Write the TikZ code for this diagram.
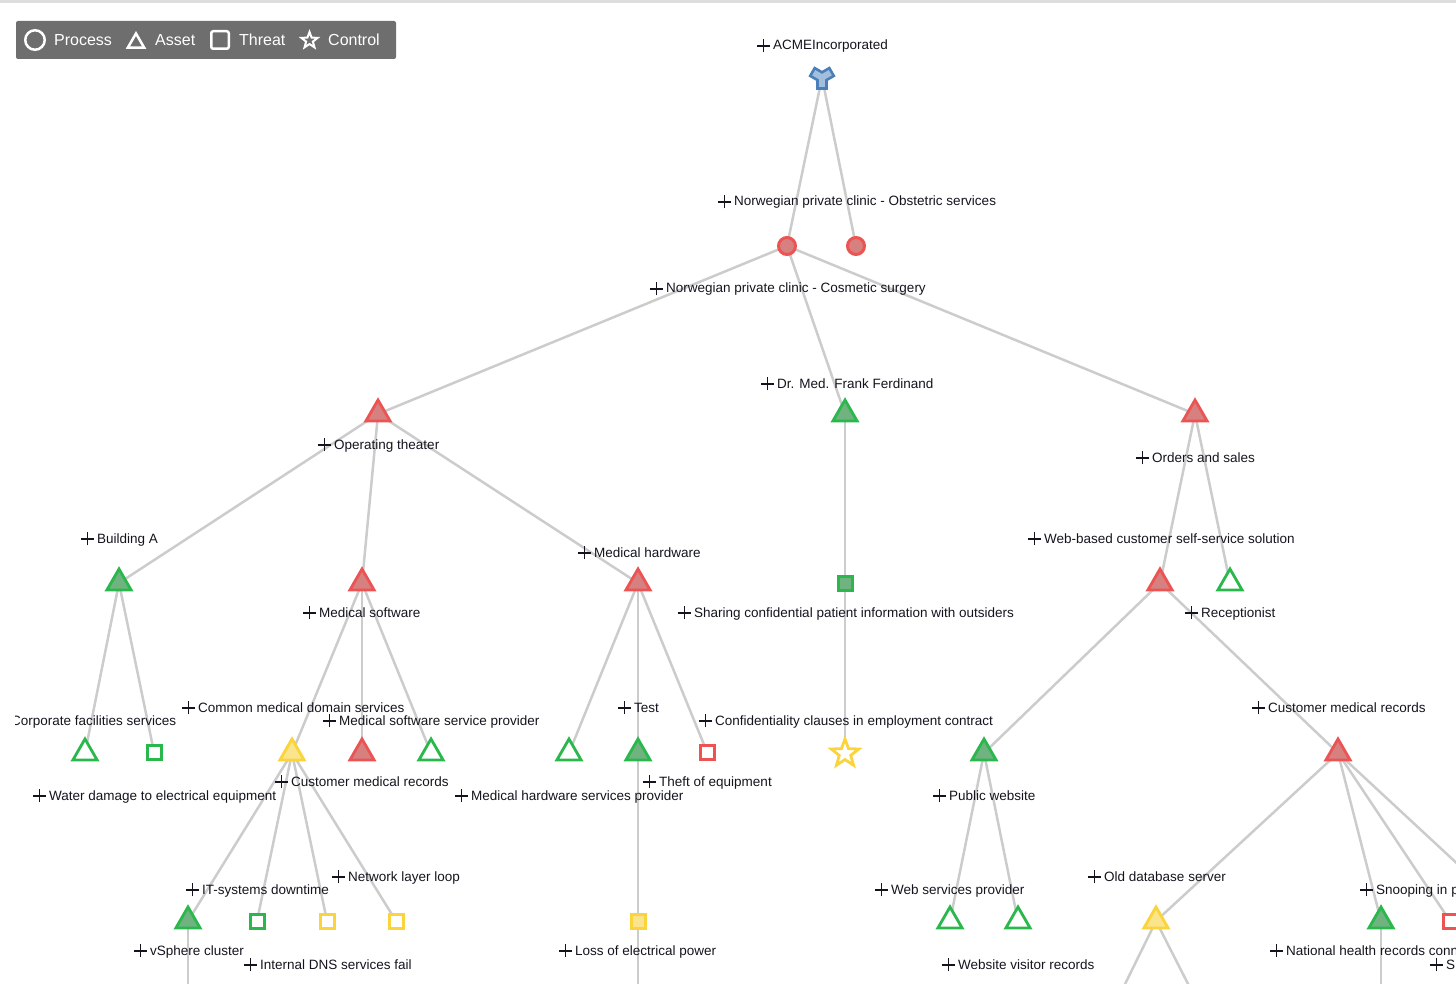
\documentclass[tikz,border=0pt]{standalone}
\usepackage{fontspec}
\setmainfont{Liberation Sans}
\usetikzlibrary{shapes.geometric, backgrounds}
\definecolor{edgegrey}{RGB}{204,204,204}
\definecolor{riskred}{RGB}{236,84,84}
\definecolor{riskredfill}{RGB}{214,128,128}
\definecolor{riskgreen}{RGB}{42,184,76}
\definecolor{riskgreenfill}{RGB}{112,178,128}
\definecolor{riskyellow}{RGB}{250,212,58}
\definecolor{riskyellowfill}{RGB}{250,228,140}
\definecolor{orgblue}{RGB}{74,128,184}
\definecolor{orgbluefill}{RGB}{164,190,222}
\definecolor{legendgrey}{RGB}{110,110,110}
\definecolor{topline}{RGB}{222,222,222}
\definecolor{labeltext}{RGB}{20,20,30}

% expand marker in front of every label
\newcommand\treeplus{\makebox[12pt][l]{\rule[3.4pt]{12.5pt}{1.3pt}\hspace{-6.9pt}\rule[-2.4pt]{1.3pt}{13pt}}\hspace{4pt}}

\begin{document}
\begin{tikzpicture}[
        x=1pt, y=-1pt,
        edge/.style={draw=edgegrey, line width=2.5pt},
        asset/.style={regular polygon, regular polygon sides=3, minimum size=28pt, inner sep=0pt, line width=2.8pt, draw=#1, fill=white},
        threat/.style={rectangle, minimum size=14pt, inner sep=0pt, line width=3pt, draw=#1, fill=white},
        process/.style={circle, minimum size=17pt, inner sep=0pt, line width=3pt, draw=#1, fill=riskredfill},
        control/.style={star, star points=5, star point ratio=2.4, minimum size=29pt, inner sep=0pt, line width=2.8pt, draw=#1, fill=white},
        org/.style={draw=orgblue, fill=orgbluefill, line width=2.6pt, line join=miter},
        lbl/.style={anchor=base west, inner sep=0pt, text=labeltext, font=\fontsize{13.5}{16}\selectfont},
        legendtxt/.style={anchor=base west, inner sep=0pt, text=white, font=\fontsize{16}{19}\selectfont}
    ]
    \useasboundingbox (0,0) rectangle (1456,984);
    \fill[topline] (0,0) rectangle (1456,3);

    % legend
    \fill[legendgrey, rounded corners=2pt] (16,21) rectangle (396,59);
    \node[circle, draw=white, line width=2.5pt, minimum size=19.5pt, inner sep=0pt] (legprocess) at (35,40) {};
    \node[legendtxt] (legprocesstxt) at (54,45.7) {Process};
    \node[regular polygon, regular polygon sides=3, draw=white, line width=2.5pt, minimum size=19pt, inner sep=0pt] (legasset) at (136,43) {};
    \node[legendtxt] (legassettxt) at (155,45.7) {Asset};
    \node[rectangle, rounded corners=2pt, draw=white, line width=2.5pt, minimum size=17.5pt, inner sep=0pt] (legthreat) at (220,40) {};
    \node[legendtxt] (legthreattxt) at (239,45.7) {Threat};
    \node[star, star points=5, star point ratio=2.4, draw=white, line width=2pt, minimum size=17pt, inner sep=0pt] (legcontrol) at (309.5,40.5) {};
    \node[legendtxt] (legcontroltxt) at (328,45.7) {Control};

    \begin{scope}
        \clip (15,3) rectangle (1456,984);

        % organisation
        \coordinate (acme) at (822,77.5);
        \draw[org, shift={(acme)}] (4.5,11) -- (-4.5,11) -- (-4.5,2.6) -- (-11.8,-1.6) -- (-7.3,-9.4)
            -- (0,-5.2) -- (7.3,-9.4) -- (11.8,-1.6) -- (4.5,2.6) -- cycle;

        % processes
        \node[process=riskred] (proc1) at (787,246) {};
        \node[process=riskred] (proc2) at (856,246) {};

        % assets, threats and controls
        \node[asset=riskred, fill=riskredfill] (opth) at (378,414) {};
        \node[asset=riskgreen, fill=riskgreenfill] (drmed) at (845,414) {};
        \node[asset=riskred, fill=riskredfill] (orders) at (1195,414) {};

        \node[asset=riskgreen, fill=riskgreenfill] (bldg) at (119,583) {};
        \node[asset=riskred, fill=riskredfill] (medsw) at (362,583) {};
        \node[asset=riskred, fill=riskredfill] (medhw) at (638,583) {};
        \node[threat=riskgreen, fill=riskgreenfill] (sharing) at (845,583) {};
        \node[asset=riskred, fill=riskredfill] (websol) at (1160,583) {};
        \node[asset=riskgreen] (recept) at (1230,583) {};

        \node[asset=riskgreen] (corp) at (85,753) {};
        \node[threat=riskgreen] (water) at (154,752) {};
        \node[asset=riskyellow, fill=riskyellowfill] (cmrleft) at (292,753) {};
        \node[asset=riskred, fill=riskredfill] (msprov) at (362,753) {};
        \node[asset=riskgreen] (common) at (431,753) {};
        \node[asset=riskgreen] (hwprov) at (569,753) {};
        \node[asset=riskgreen, fill=riskgreenfill] (test) at (638,753) {};
        \node[threat=riskred] (theft) at (707,752) {};
        \node[control=riskyellow] (conf) at (845,753.5) {};
        \node[asset=riskgreen, fill=riskgreenfill] (pubweb) at (984,753) {};
        \node[asset=riskred, fill=riskredfill] (cmrright) at (1338,753) {};

        \node[asset=riskgreen, fill=riskgreenfill] (vsphere) at (188,921) {};
        \node[threat=riskgreen] (dns) at (257,921) {};
        \node[threat=riskyellow] (netloop) at (327,921) {};
        \node[threat=riskyellow] (itdown) at (396,921) {};
        \node[threat=riskyellow, fill=riskyellowfill] (power) at (638,921) {};
        \node[asset=riskgreen] (websvc) at (950,921) {};
        \node[asset=riskgreen] (visitor) at (1018,921) {};
        \node[asset=riskyellow, fill=riskyellowfill] (olddb) at (1156,921) {};
        \node[asset=riskgreen, fill=riskgreenfill] (nhr) at (1381,921) {};
        \node[threat=riskred] (snoop) at (1450,921) {};

        % children below the visible area
        \coordinate (offright) at (1519,921);
        \coordinate (powerdown) at (638,1090);
        \coordinate (vspheredown) at (188,1090);
        \coordinate (nhrdown) at (1381,1090);
        \coordinate (olddbleft) at (1073,1090);
        \coordinate (olddbright) at (1242,1090);

        % labels
        \node[lbl] (lblacme) at (757,50) {\treeplus ACMEIncorporated};
        \node[lbl] (lblobst) at (718,206) {\treeplus Norwegian private clinic - Obstetric services};
        \node[lbl] (lblcosm) at (650,293) {\treeplus Norwegian private clinic - Cosmetic surgery};
        \node[lbl] (lbldrmed) at (761,388) {\treeplus Dr. Med. Frank Ferdinand};
        \node[lbl] (lblopth) at (318,449) {\treeplus Operating theater};
        \node[lbl] (lblorders) at (1136,462) {\treeplus Orders and sales};
        \node[lbl] (lblbldg) at (81,543) {\treeplus Building A};
        \node[lbl] (lblmedhw) at (578,557) {\treeplus Medical hardware};
        \node[lbl] (lblwebsol) at (1028,543) {\treeplus Web-based customer self-service solution};
        \node[lbl] (lblmedsw) at (303,617) {\treeplus Medical software};
        \node[lbl] (lblsharing) at (678,617) {\treeplus Sharing confidential patient information with outsiders};
        \node[lbl] (lblrecept) at (1185,617) {\treeplus Receptionist};
        \node[lbl] (lblcommon) at (182,712) {\treeplus Common medical domain services};
        \node[lbl] (lbltest) at (618,712) {\treeplus Test};
        \node[lbl] (lblcmrright) at (1252,712) {\treeplus Customer medical records};
        \node[lbl] (lblcorp) at (-5,725) {\treeplus Corporate facilities services};
        \node[lbl] (lblmsprov) at (323,725) {\treeplus Medical software service provider};
        \node[lbl] (lblconf) at (699,725) {\treeplus Confidentiality clauses in employment contract};
        \node[lbl] (lblcmrleft) at (275,786) {\treeplus Customer medical records};
        \node[lbl] (lbltheft) at (643,786) {\treeplus Theft of equipment};
        \node[lbl] (lblwater) at (33,800) {\treeplus Water damage to electrical equipment};
        \node[lbl] (lblhwprov) at (455,800) {\treeplus Medical hardware services provider};
        \node[lbl] (lblpubweb) at (933,800) {\treeplus Public website};
        \node[lbl] (lblnetloop) at (332,881) {\treeplus Network layer loop};
        \node[lbl] (lbloldb) at (1088,881) {\treeplus Old database server};
        \node[lbl] (lblitdown) at (186,894) {\treeplus IT-systems downtime};
        \node[lbl] (lblwebsvc) at (875,894) {\treeplus Web services provider};
        \node[lbl] (lblsnoop) at (1360,894) {\treeplus Snooping in p};
        \node[lbl] (lblvsphere) at (134,955) {\treeplus vSphere cluster};
        \node[lbl] (lblpower) at (559,955) {\treeplus Loss of electrical power};
        \node[lbl] (lblnhr) at (1270,955) {\treeplus National health records conn};
        \node[lbl] (lbldns) at (244,969) {\treeplus Internal DNS services fail};
        \node[lbl] (lblvisitor) at (942,969) {\treeplus Website visitor records};
        \node[lbl] (lbls) at (1430,969) {\treeplus S};
    \end{scope}

    % connectors behind the shapes
    \begin{pgfonlayer}{background}
        \clip (15,3) rectangle (1456,984);
        \foreach \a/\b in {acme/proc1, acme/proc2, proc1/opth, proc1/drmed, proc1/orders,
                opth/bldg, opth/medsw, opth/medhw, drmed/sharing, sharing/conf,
                orders/websol, orders/recept, websol/pubweb, websol/cmrright,
                bldg/corp, bldg/water, medsw/cmrleft, medsw/msprov, medsw/common,
                medhw/hwprov, medhw/test, medhw/theft, test/power, power/powerdown,
                cmrleft/vsphere, cmrleft/dns, cmrleft/netloop, cmrleft/itdown, vsphere/vspheredown,
                pubweb/websvc, pubweb/visitor,
                cmrright/olddb, cmrright/nhr, cmrright/snoop, cmrright/offright,
                olddb/olddbleft, olddb/olddbright, nhr/nhrdown}
            \draw[edge] (\a.center) -- (\b.center);
    \end{pgfonlayer}
\end{tikzpicture}
\end{document}
